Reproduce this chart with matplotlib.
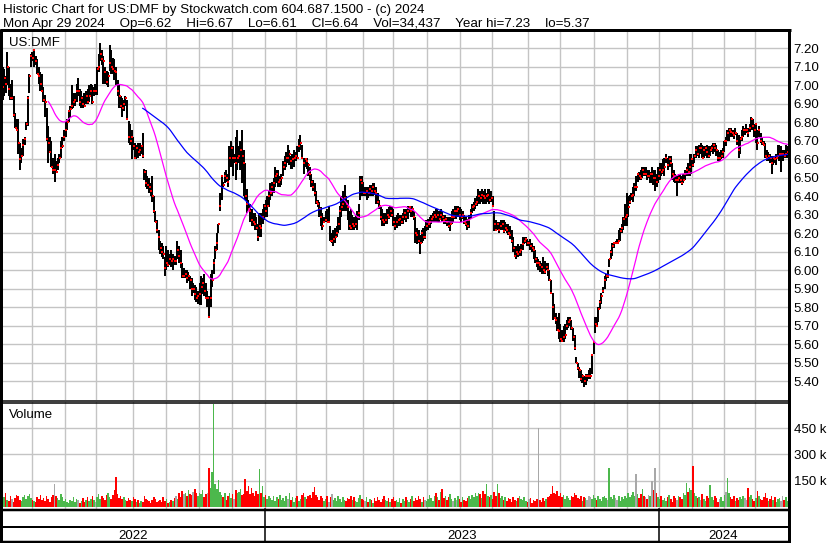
import numpy as np
import pandas as pd
import matplotlib
matplotlib.use('Agg')
import matplotlib.pyplot as plt
from matplotlib.lines import Line2D
from matplotlib.transforms import blended_transform_factory

plt.rcParams['font.family'] = ['Liberation Sans', 'DejaVu Sans']

symbol = 'US:DMF'
header1 = 'Historic Chart for US:DMF by Stockwatch.com 604.687.1500 - (c) 2024'
header2 = 'Mon Apr 29 2024    Op=6.62    Hi=6.67    Lo=6.61    Cl=6.64    Vol=34,437    Year hi=7.23    lo=5.37'

# NYSE holidays inside the window
holidays = ['2022-05-30', '2022-06-20', '2022-07-04', '2022-09-05', '2022-11-24', '2022-12-26',
            '2023-01-02', '2023-01-16', '2023-02-20', '2023-04-07', '2023-05-29', '2023-06-19',
            '2023-07-04', '2023-09-04', '2023-11-23', '2023-12-25',
            '2024-01-01', '2024-01-15', '2024-02-19', '2024-03-29']

# daily bars
high = [
    7.10, 7.09, 7.05, 7.18, 7.10, 7.01, 7.03, 6.94, 6.85, 6.82, 6.82, 6.69, 6.66, 6.71, 6.72, 6.80, 6.94, 7.06, 7.17, 7.18,
    7.19, 7.16, 7.14, 7.10, 7.07, 7.06, 6.99, 6.95, 6.88, 6.78, 6.72, 6.70, 6.61, 6.63, 6.59, 6.61, 6.63, 6.70, 6.72, 6.76,
    6.80, 6.82, 6.86, 6.89, 7.00, 6.96, 6.96, 7.01, 7.04, 6.98, 6.97, 6.94, 6.96, 6.97, 6.98, 7.00, 7.01, 7.00, 6.99, 7.01,
    7.10, 7.17, 7.23, 7.19, 7.16, 7.10, 7.08, 7.07, 7.22, 7.19, 7.15, 7.14, 7.10, 7.03, 7.00, 6.94, 6.93, 6.92, 6.94, 6.92,
    6.81, 6.79, 6.76, 6.72, 6.69, 6.68, 6.69, 6.69, 6.68, 6.74, 6.55, 6.54, 6.51, 6.50, 6.47, 6.51, 6.40, 6.32, 6.27, 6.22,
    6.16, 6.15, 6.13, 6.07, 6.13, 6.11, 6.09, 6.11, 6.09, 6.08, 6.08, 6.16, 6.13, 6.11, 6.04, 6.01, 6.00, 6.00, 5.99, 5.97,
    5.96, 5.93, 5.92, 5.91, 5.89, 5.93, 5.97, 5.96, 5.98, 5.93, 5.89, 5.86, 5.98, 6.00, 6.06, 6.13, 6.20, 6.25, 6.42, 6.51,
    6.48, 6.53, 6.54, 6.52, 6.67, 6.70, 6.67, 6.63, 6.72, 6.76, 6.67, 6.70, 6.76, 6.65, 6.58, 6.44, 6.38, 6.36, 6.33, 6.31,
    6.31, 6.29, 6.25, 6.31, 6.31, 6.33, 6.36, 6.38, 6.40, 6.43, 6.47, 6.48, 6.50, 6.56, 6.54, 6.54, 6.51, 6.52, 6.59, 6.62,
    6.64, 6.68, 6.65, 6.62, 6.63, 6.65, 6.64, 6.67, 6.71, 6.73, 6.68, 6.61, 6.61, 6.61, 6.58, 6.56, 6.52, 6.49, 6.47, 6.43,
    6.38, 6.37, 6.34, 6.31, 6.29, 6.32, 6.33, 6.35, 6.24, 6.20, 6.22, 6.23, 6.24, 6.29, 6.35, 6.40, 6.43, 6.46, 6.40, 6.38,
    6.32, 6.33, 6.30, 6.29, 6.30, 6.32, 6.36, 6.51, 6.51, 6.48, 6.45, 6.45, 6.45, 6.46, 6.46, 6.47, 6.47, 6.45, 6.42, 6.38,
    6.34, 6.33, 6.31, 6.31, 6.33, 6.34, 6.35, 6.34, 6.33, 6.29, 6.30, 6.31, 6.30, 6.30, 6.31, 6.33, 6.33, 6.35, 6.35, 6.35,
    6.35, 6.32, 6.29, 6.23, 6.22, 6.19, 6.22, 6.23, 6.24, 6.27, 6.28, 6.29, 6.30, 6.31, 6.32, 6.33, 6.33, 6.32, 6.33, 6.32,
    6.30, 6.30, 6.29, 6.29, 6.29, 6.32, 6.33, 6.35, 6.35, 6.35, 6.34, 6.33, 6.32, 6.30, 6.29, 6.28, 6.30, 6.33, 6.36, 6.37,
    6.39, 6.40, 6.44, 6.43, 6.44, 6.43, 6.44, 6.42, 6.44, 6.44, 6.43, 6.40, 6.32, 6.27, 6.26, 6.26, 6.27, 6.27, 6.27, 6.26,
    6.25, 6.25, 6.24, 6.22, 6.18, 6.13, 6.13, 6.14, 6.13, 6.14, 6.18, 6.18, 6.18, 6.17, 6.16, 6.17, 6.15, 6.13, 6.11, 6.07,
    6.06, 6.05, 6.04, 6.07, 6.05, 6.04, 6.04, 6.00, 5.95, 5.88, 5.82, 5.77, 5.75, 5.77, 5.71, 5.68, 5.70, 5.71, 5.73, 5.75,
    5.75, 5.73, 5.69, 5.65, 5.53, 5.50, 5.48, 5.46, 5.44, 5.43, 5.44, 5.44, 5.46, 5.47, 5.55, 5.61, 5.75, 5.75, 5.80, 5.84,
    5.88, 5.91, 5.97, 5.98, 6.00, 6.06, 6.11, 6.15, 6.15, 6.16, 6.17, 6.22, 6.23, 6.25, 6.29, 6.36, 6.42, 6.40, 6.41, 6.42,
    6.45, 6.47, 6.51, 6.52, 6.53, 6.54, 6.56, 6.56, 6.56, 6.54, 6.54, 6.53, 6.56, 6.54, 6.54, 6.52, 6.56, 6.58, 6.58, 6.60,
    6.61, 6.63, 6.61, 6.62, 6.62, 6.58, 6.54, 6.52, 6.51, 6.52, 6.52, 6.51, 6.52, 6.54, 6.56, 6.58, 6.63, 6.63, 6.61, 6.63,
    6.67, 6.67, 6.68, 6.69, 6.68, 6.67, 6.67, 6.68, 6.67, 6.67, 6.68, 6.69, 6.69, 6.68, 6.65, 6.64, 6.65, 6.66, 6.70, 6.72,
    6.76, 6.77, 6.77, 6.76, 6.76, 6.77, 6.74, 6.73, 6.72, 6.76, 6.78, 6.77, 6.79, 6.77, 6.79, 6.83, 6.82, 6.79, 6.79, 6.76,
    6.78, 6.74, 6.72, 6.70, 6.69, 6.65, 6.64, 6.63, 6.62, 6.62, 6.62, 6.63, 6.68, 6.68, 6.67, 6.65, 6.65, 6.68, 6.67,
]
low = [
    6.92, 6.94, 6.96, 7.00, 6.94, 6.92, 6.92, 6.83, 6.77, 6.76, 6.63, 6.54, 6.58, 6.62, 6.68, 6.76, 6.78, 6.96, 7.10, 7.13,
    7.10, 7.11, 7.06, 7.01, 6.97, 6.97, 6.91, 6.83, 6.70, 6.58, 6.64, 6.56, 6.52, 6.48, 6.53, 6.54, 6.58, 6.61, 6.66, 6.70,
    6.72, 6.76, 6.80, 6.83, 6.87, 6.88, 6.89, 6.91, 6.94, 6.89, 6.88, 6.88, 6.89, 6.90, 6.90, 6.91, 6.94, 6.90, 6.94, 6.95,
    6.95, 7.07, 7.13, 7.11, 7.01, 7.01, 7.00, 6.99, 7.08, 7.06, 7.06, 7.03, 7.00, 6.94, 6.88, 6.88, 6.83, 6.86, 6.89, 6.82,
    6.69, 6.68, 6.60, 6.65, 6.60, 6.60, 6.61, 6.62, 6.63, 6.61, 6.49, 6.45, 6.44, 6.42, 6.40, 6.37, 6.31, 6.26, 6.20, 6.11,
    6.09, 6.07, 6.06, 5.97, 6.00, 6.02, 6.03, 6.02, 6.00, 6.03, 6.03, 6.06, 6.04, 6.01, 5.96, 5.96, 5.96, 5.93, 5.94, 5.90,
    5.86, 5.88, 5.84, 5.83, 5.82, 5.81, 5.81, 5.87, 5.86, 5.85, 5.80, 5.75, 5.80, 5.91, 5.98, 6.06, 6.11, 6.20, 6.32, 6.38,
    6.45, 6.47, 6.48, 6.45, 6.49, 6.56, 6.51, 6.58, 6.49, 6.54, 6.58, 6.54, 6.47, 6.40, 6.38, 6.31, 6.32, 6.26, 6.24, 6.24,
    6.22, 6.22, 6.16, 6.18, 6.18, 6.25, 6.27, 6.29, 6.29, 6.34, 6.38, 6.40, 6.42, 6.45, 6.47, 6.45, 6.45, 6.46, 6.51, 6.54,
    6.56, 6.58, 6.57, 6.55, 6.55, 6.56, 6.59, 6.60, 6.64, 6.65, 6.60, 6.52, 6.56, 6.55, 6.51, 6.49, 6.45, 6.43, 6.40, 6.36,
    6.34, 6.29, 6.24, 6.22, 6.26, 6.26, 6.26, 6.26, 6.16, 6.15, 6.13, 6.15, 6.18, 6.20, 6.22, 6.29, 6.32, 6.32, 6.32, 6.27,
    6.22, 6.22, 6.22, 6.22, 6.23, 6.22, 6.27, 6.38, 6.40, 6.40, 6.40, 6.38, 6.39, 6.40, 6.40, 6.40, 6.41, 6.36, 6.36, 6.33,
    6.27, 6.24, 6.24, 6.25, 6.25, 6.28, 6.29, 6.29, 6.24, 6.22, 6.23, 6.24, 6.24, 6.25, 6.25, 6.27, 6.26, 6.28, 6.31, 6.29,
    6.29, 6.27, 6.15, 6.14, 6.15, 6.09, 6.15, 6.16, 6.17, 6.21, 6.22, 6.23, 6.25, 6.26, 6.26, 6.26, 6.26, 6.26, 6.28, 6.26,
    6.25, 6.25, 6.24, 6.23, 6.21, 6.25, 6.26, 6.28, 6.28, 6.29, 6.27, 6.26, 6.28, 6.25, 6.24, 6.22, 6.23, 6.28, 6.31, 6.32,
    6.33, 6.35, 6.36, 6.36, 6.37, 6.36, 6.36, 6.36, 6.37, 6.36, 6.37, 6.35, 6.21, 6.22, 6.22, 6.20, 6.22, 6.22, 6.20, 6.21,
    6.20, 6.19, 6.17, 6.15, 6.10, 6.07, 6.06, 6.07, 6.08, 6.08, 6.11, 6.14, 6.15, 6.13, 6.13, 6.11, 6.10, 6.06, 6.04, 6.02,
    6.00, 5.99, 5.98, 5.98, 5.98, 6.00, 5.97, 5.94, 5.87, 5.73, 5.74, 5.71, 5.67, 5.63, 5.61, 5.61, 5.61, 5.63, 5.68, 5.69,
    5.70, 5.68, 5.62, 5.57, 5.50, 5.46, 5.42, 5.40, 5.39, 5.37, 5.38, 5.40, 5.41, 5.41, 5.44, 5.55, 5.66, 5.70, 5.72, 5.79,
    5.82, 5.88, 5.90, 5.94, 5.96, 6.02, 6.06, 6.08, 6.12, 6.14, 6.15, 6.16, 6.16, 6.20, 6.22, 6.24, 6.24, 6.29, 6.36, 6.38,
    6.37, 6.40, 6.43, 6.48, 6.49, 6.49, 6.50, 6.51, 6.51, 6.49, 6.50, 6.47, 6.47, 6.46, 6.43, 6.45, 6.47, 6.49, 6.51, 6.52,
    6.51, 6.58, 6.54, 6.56, 6.56, 6.49, 6.48, 6.47, 6.40, 6.47, 6.47, 6.46, 6.47, 6.49, 6.51, 6.51, 6.51, 6.52, 6.56, 6.58,
    6.61, 6.62, 6.61, 6.63, 6.61, 6.61, 6.62, 6.61, 6.61, 6.62, 6.64, 6.63, 6.64, 6.62, 6.59, 6.59, 6.60, 6.61, 6.64, 6.67,
    6.70, 6.70, 6.72, 6.72, 6.71, 6.73, 6.68, 6.61, 6.63, 6.70, 6.72, 6.73, 6.74, 6.72, 6.75, 6.76, 6.76, 6.72, 6.69, 6.65,
    6.72, 6.69, 6.68, 6.67, 6.61, 6.59, 6.59, 6.58, 6.52, 6.57, 6.58, 6.57, 6.61, 6.59, 6.53, 6.59, 6.61, 6.61, 6.61,
]
close = [
    6.99, 7.04, 7.01, 7.10, 6.98, 6.93, 6.93, 6.84, 6.77, 6.76, 6.69, 6.60, 6.62, 6.68, 6.71, 6.79, 6.93, 7.05, 7.16, 7.15,
    7.19, 7.13, 7.06, 7.05, 7.01, 6.97, 6.92, 6.91, 6.71, 6.69, 6.64, 6.56, 6.54, 6.54, 6.53, 6.57, 6.61, 6.66, 6.67, 6.72,
    6.76, 6.80, 6.86, 6.87, 6.89, 6.91, 6.92, 6.97, 6.97, 6.91, 6.93, 6.90, 6.89, 6.94, 6.91, 6.94, 6.97, 6.91, 6.97, 6.97,
    7.09, 7.10, 7.17, 7.14, 7.13, 7.07, 7.02, 7.05, 7.12, 7.10, 7.09, 7.08, 7.07, 6.97, 6.94, 6.89, 6.88, 6.90, 6.93, 6.82,
    6.72, 6.70, 6.72, 6.67, 6.61, 6.66, 6.64, 6.65, 6.67, 6.62, 6.53, 6.47, 6.46, 6.45, 6.43, 6.40, 6.32, 6.26, 6.22, 6.18,
    6.12, 6.10, 6.09, 6.01, 6.04, 6.03, 6.06, 6.05, 6.06, 6.05, 6.05, 6.11, 6.08, 6.04, 5.97, 5.97, 5.98, 5.96, 5.97, 5.95,
    5.90, 5.90, 5.87, 5.85, 5.86, 5.87, 5.91, 5.93, 5.89, 5.85, 5.85, 5.75, 5.85, 5.95, 6.04, 6.11, 6.15, 6.25, 6.35, 6.51,
    6.46, 6.51, 6.50, 6.48, 6.61, 6.66, 6.61, 6.61, 6.58, 6.61, 6.62, 6.65, 6.62, 6.58, 6.40, 6.36, 6.33, 6.32, 6.27, 6.26,
    6.25, 6.23, 6.18, 6.24, 6.23, 6.29, 6.35, 6.32, 6.35, 6.40, 6.42, 6.45, 6.47, 6.51, 6.52, 6.48, 6.49, 6.50, 6.56, 6.58,
    6.61, 6.61, 6.63, 6.59, 6.60, 6.61, 6.62, 6.61, 6.67, 6.69, 6.61, 6.58, 6.60, 6.59, 6.57, 6.52, 6.48, 6.45, 6.42, 6.37,
    6.36, 6.33, 6.29, 6.24, 6.26, 6.27, 6.26, 6.26, 6.16, 6.16, 6.17, 6.18, 6.20, 6.25, 6.32, 6.34, 6.36, 6.39, 6.36, 6.34,
    6.24, 6.23, 6.25, 6.24, 6.25, 6.29, 6.31, 6.49, 6.47, 6.42, 6.42, 6.43, 6.42, 6.44, 6.43, 6.45, 6.43, 6.42, 6.37, 6.35,
    6.29, 6.27, 6.26, 6.27, 6.30, 6.29, 6.32, 6.30, 6.26, 6.24, 6.26, 6.27, 6.28, 6.26, 6.29, 6.31, 6.29, 6.32, 6.34, 6.32,
    6.33, 6.29, 6.20, 6.19, 6.16, 6.15, 6.20, 6.18, 6.18, 6.24, 6.25, 6.26, 6.28, 6.29, 6.30, 6.29, 6.30, 6.28, 6.30, 6.29,
    6.27, 6.28, 6.26, 6.24, 6.25, 6.29, 6.29, 6.32, 6.32, 6.33, 6.30, 6.29, 6.30, 6.26, 6.25, 6.24, 6.27, 6.31, 6.34, 6.35,
    6.36, 6.37, 6.40, 6.39, 6.41, 6.40, 6.39, 6.40, 6.41, 6.38, 6.39, 6.35, 6.25, 6.22, 6.25, 6.22, 6.24, 6.25, 6.21, 6.23,
    6.22, 6.20, 6.19, 6.16, 6.12, 6.08, 6.10, 6.09, 6.10, 6.11, 6.14, 6.16, 6.17, 6.15, 6.15, 6.13, 6.12, 6.11, 6.06, 6.04,
    6.04, 6.03, 6.02, 6.00, 5.99, 6.02, 6.00, 5.95, 5.88, 5.80, 5.74, 5.73, 5.68, 5.67, 5.63, 5.62, 5.64, 5.65, 5.70, 5.72,
    5.73, 5.69, 5.64, 5.58, 5.50, 5.47, 5.46, 5.41, 5.43, 5.40, 5.43, 5.43, 5.43, 5.43, 5.54, 5.61, 5.71, 5.70, 5.79, 5.83,
    5.86, 5.89, 5.95, 5.97, 5.97, 6.06, 6.10, 6.13, 6.15, 6.15, 6.15, 6.16, 6.21, 6.23, 6.28, 6.29, 6.30, 6.34, 6.37, 6.40,
    6.41, 6.45, 6.45, 6.52, 6.51, 6.50, 6.54, 6.52, 6.52, 6.51, 6.51, 6.52, 6.52, 6.50, 6.50, 6.48, 6.51, 6.54, 6.53, 6.54,
    6.56, 6.61, 6.57, 6.60, 6.58, 6.52, 6.51, 6.49, 6.49, 6.50, 6.49, 6.47, 6.49, 6.52, 6.54, 6.53, 6.56, 6.60, 6.57, 6.62,
    6.65, 6.63, 6.66, 6.66, 6.61, 6.65, 6.66, 6.64, 6.62, 6.65, 6.66, 6.68, 6.66, 6.65, 6.61, 6.61, 6.62, 6.64, 6.70, 6.70,
    6.74, 6.76, 6.75, 6.74, 6.73, 6.74, 6.70, 6.65, 6.71, 6.72, 6.76, 6.76, 6.76, 6.74, 6.77, 6.82, 6.78, 6.76, 6.79, 6.69,
    6.76, 6.70, 6.69, 6.68, 6.62, 6.61, 6.62, 6.61, 6.58, 6.61, 6.60, 6.61, 6.62, 6.63, 6.63, 6.63, 6.62, 6.63, 6.64,
]
# volume in thousands of shares
volume_k = [
    100, 55, 80, 40, 35, 60, 45, 30, 50, 70, 65, 40, 35, 55, 70, 45, 60, 75, 50, 40,
    35, 30, 55, 45, 70, 40, 50, 35, 60, 45, 30, 55, 70, 130, 65, 50, 40, 75, 55, 35,
    45, 30, 25, 40, 35, 55, 30, 45, 40, 25, 35, 50, 30, 40, 55, 35, 45, 60, 40, 30,
    55, 75, 45, 65, 50, 40, 70, 80, 55, 45, 70, 95, 170, 75, 50, 65, 45, 55, 40, 35,
    50, 40, 35, 55, 45, 30, 40, 25, 35, 30, 60, 45, 40, 35, 25, 40, 55, 45, 30, 35,
    40, 30, 55, 35, 45, 25, 30, 40, 35, 50, 65, 45, 80, 55, 90, 75, 80, 60, 95, 75,
    70, 85, 105, 80, 65, 80, 75, 95, 55, 75, 80, 225, 110, 200, 590, 130, 105, 155, 85, 70,
    55, 80, 40, 65, 80, 50, 75, 45, 95, 80, 85, 100, 70, 75, 160, 90, 120, 75, 110, 80,
    65, 90, 75, 215, 80, 120, 55, 70, 45, 60, 50, 40, 65, 35, 55, 45, 70, 40, 50, 35,
    60, 45, 80, 40, 55, 30, 50, 65, 35, 45, 70, 80, 55, 45, 65, 70, 50, 85, 115, 70,
    55, 40, 65, 50, 35, 45, 60, 30, 55, 75, 40, 50, 35, 65, 45, 30, 55, 40, 35, 50,
    45, 65, 40, 55, 35, 30, 50, 70, 45, 40, 35, 55, 30, 45, 40, 25, 50, 35, 55, 40,
    30, 45, 65, 40, 35, 50, 30, 45, 55, 35, 40, 30, 50, 25, 45, 35, 55, 40, 30, 45,
    60, 35, 50, 40, 65, 45, 30, 55, 40, 35, 45, 70, 50, 35, 60, 80, 55, 40, 85, 100,
    50, 65, 40, 55, 75, 45, 35, 50, 40, 60, 45, 30, 55, 40, 35, 50, 65, 45, 70, 55,
    80, 60, 80, 75, 50, 90, 75, 130, 65, 55, 70, 45, 85, 60, 130, 80, 50, 65, 40, 55,
    35, 50, 45, 30, 55, 40, 35, 50, 60, 45, 40, 55, 35, 30, 45, 50, 25, 40, 35, 45,
    450, 40, 30, 50, 35, 45, 55, 65, 75, 120, 80, 75, 90, 65, 80, 55, 70, 45, 60, 50,
    40, 65, 55, 80, 70, 50, 45, 60, 35, 55, 50, 40, 65, 55, 45, 70, 50, 40, 60, 45,
    35, 55, 65, 50, 40, 220, 55, 45, 70, 50, 40, 60, 35, 55, 45, 65, 50, 80, 55, 70,
    85, 60, 190, 75, 50, 75, 100, 65, 55, 45, 70, 60, 150, 95, 220, 80, 55, 45, 65, 40,
    50, 35, 55, 70, 45, 30, 65, 50, 40, 60, 55, 45, 80, 70, 135, 85, 110, 95, 235, 80,
    65, 50, 55, 40, 75, 45, 35, 60, 50, 125, 55, 40, 65, 50, 30, 45, 55, 35, 70, 85,
    165, 80, 55, 45, 60, 35, 50, 40, 55, 45, 65, 50, 40, 110, 55, 70, 45, 35, 50, 90,
    60, 45, 40, 55, 80, 50, 35, 45, 65, 40, 55, 30, 45, 50, 35, 60, 40, 55, 34.437,
]

price_ticks = [5.40, 5.50, 5.60, 5.70, 5.80, 5.90, 6.00, 6.10, 6.20, 6.30,
               6.40, 6.50, 6.60, 6.70, 6.80, 6.90, 7.00, 7.10, 7.20]
volume_ticks = [150, 300, 450]
ma_windows = (30, 90)

dates = pd.bdate_range('2022-05-04', '2024-04-29', freq='C', holidays=holidays)
df = pd.DataFrame({'high': high, 'low': low, 'close': close, 'vol': volume_k}, index=dates)
df['ma_short'] = df['close'].rolling(ma_windows[0]).mean()
df['ma_long'] = df['close'].rolling(ma_windows[1]).mean()
n = len(df)
xs = np.arange(n)

chg = df['close'].diff().fillna(-1).round(4)
vcol = np.where(chg > 0, '#4cb84c', np.where(chg < 0, '#ff0000', '#a8a8a8'))

# month boundaries -> vertical gridlines
month = df.index.month.values
month_start = np.where(month != np.roll(month, 1))[0]
month_start = month_start[month_start > 0]
year = df.index.year.values
year_start = np.where(year != np.roll(year, 1))[0]
year_start = year_start[year_start > 0]

W, H = 830, 543
fig = plt.figure(figsize=(W / 100, H / 100), dpi=100)


def box(x0, y0, x1, y1):
    return [x0 / W, 1 - y1 / H, (x1 - x0) / W, (y1 - y0) / H]


grid_kw = dict(color='#c4c4c4', lw=1.0)
xlim = (-0.32, 498.4)

# price panel
ax = fig.add_axes(box(2, 31, 788, 400))
ax.set_xlim(*xlim)
ax.set_ylim(5.299, 7.294)
ax.set_xticks(month_start - 0.5)
ax.set_yticks(price_ticks)
ax.set_yticklabels(['%.2f' % t for t in price_ticks])
ax.yaxis.tick_right()
ax.tick_params(axis='y', length=0, pad=4, labelsize=9.5)
ax.tick_params(axis='x', length=0, labelbottom=False)
ax.grid(True, **grid_kw)
ax.set_axisbelow(True)
for s in ax.spines.values():
    s.set_visible(False)

ax.vlines(xs, df['low'], df['high'], color='black', lw=1.1, antialiased=False, zorder=2)
ax.scatter(xs + 0.3, df['close'], marker='s', s=2, color='red', lw=0, zorder=3)
ax.plot(xs, df['ma_short'], color='#ff00ff', lw=0.9, zorder=4)
ax.plot(xs, df['ma_long'], color='#0000ff', lw=0.9, zorder=4)

# volume panel
axv = fig.add_axes(box(2, 402, 788, 509))
axv.set_xlim(*xlim)
axv.set_ylim(-11.5, 600)
axv.set_xticks(month_start - 0.5)
axv.set_yticks(volume_ticks)
axv.set_yticklabels(['%d k' % t for t in volume_ticks])
axv.yaxis.tick_right()
axv.tick_params(axis='y', length=0, pad=4, labelsize=9.5)
axv.tick_params(axis='x', length=0, labelbottom=False)
axv.grid(True, **grid_kw)
axv.set_axisbelow(True)
for s in axv.spines.values():
    s.set_visible(False)
axv.bar(xs, df['vol'], width=1.0, bottom=0, color=vcol, lw=0, antialiased=False, zorder=2)

fig.text(3 / W, 1 - 13 / H, header1, fontsize=9.6, va='baseline')
fig.text(3 / W, 1 - 27 / H, header2, fontsize=9.6, va='baseline')
fig.text(9 / W, 1 - 46 / H, symbol, fontsize=9.5, va='baseline')
fig.text(9 / W, 1 - 418 / H, 'Volume', fontsize=9.5, va='baseline')


def line(xa, ya, xb, yb, px):
    fig.add_artist(Line2D([xa / W, xb / W], [1 - ya / H, 1 - yb / H], color='black',
                          lw=px * 0.72, transform=fig.transFigure, solid_capstyle='butt'))


line(0, 30, 790.5, 30, 3)
line(1, 28.5, 1, 543, 3)
line(789, 28.5, 789, 543, 3)
line(0, 400.5, 790, 400.5, 1.5)
line(0, 402.5, 790, 402.5, 1.5)
line(0, 509.5, 790, 509.5, 2.5)
line(0, 526.5, 790, 526.5, 2)
line(0, 541.5, 790, 541.5, 2.5)

# year separators and labels
tr = blended_transform_factory(axv.transData, fig.transFigure)
edges = [xlim[0]] + [ys - 0.5 for ys in year_start] + [xlim[1]]
for e in edges[1:-1]:
    fig.add_artist(Line2D([e, e], [1 - 509 / H, 1 - 543 / H], color='black', lw=1.1, transform=tr))
for k in range(len(edges) - 1):
    mid = (edges[k] + edges[k + 1]) / 2
    fig.text(mid, 1 - 539 / H, str(df.index.year[0] + k), transform=tr, ha='center',
             va='baseline', fontsize=9.5)

fig.savefig('out.png', dpi=100)
